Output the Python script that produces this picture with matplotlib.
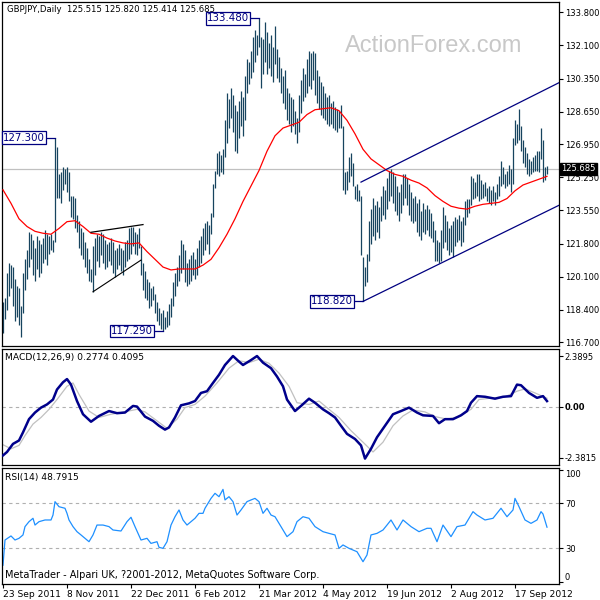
import numpy as np
import matplotlib
matplotlib.use("Agg")
import matplotlib.pyplot as plt
import matplotlib.transforms as mtransforms

# ---------------- data ----------------
highs = [
    118.8, 119.0, 120.3, 120.8, 120.7, 120.6, 120.0, 119.6, 119.5, 118.6,
    120.3, 121.0, 121.5, 122.4, 122.3, 122.0, 121.6, 122.2, 122.0, 121.8,
    122.1, 122.5, 122.3, 122.2, 122.3, 122.0, 127.3, 126.8, 125.4, 125.5,
    125.8, 125.7, 125.8, 125.5, 124.3, 124.3, 124.2, 123.3, 123.0, 122.6,
    122.4, 121.9, 121.6, 121.0, 120.5, 121.7, 122.1, 122.3, 122.2, 122.4,
    122.3, 122.0, 121.8, 121.9, 122.1, 121.9, 121.5, 121.6, 121.8, 121.6,
    121.5, 121.9, 122.0, 122.6, 122.7, 122.7, 122.4, 122.3, 122.6, 121.7,
    120.8, 120.4, 120.0, 119.8, 119.5, 119.6, 119.2, 118.8, 118.5, 118.2,
    118.4, 118.0, 118.3, 118.7, 119.0, 119.8, 120.3, 120.6, 121.2, 122.0,
    121.8, 121.5, 120.8, 121.0, 121.2, 121.4, 121.0, 121.6, 122.0, 122.2,
    122.6, 122.9, 123.0, 122.8, 123.4, 124.9, 125.6, 126.5, 126.6, 126.4,
    126.7, 128.2, 129.6, 129.3, 129.9, 129.5, 129.0, 128.7, 129.2, 129.7,
    129.4, 130.5, 131.4, 131.2, 131.8, 132.5, 132.9, 132.6, 133.48, 132.5,
    132.4, 133.3, 132.8, 132.2, 132.6, 132.0, 133.1, 131.9, 131.5, 130.9,
    130.5, 130.8, 129.9, 129.6, 129.4, 129.3, 128.7, 128.3, 129.5, 130.3,
    130.9, 130.6, 131.4, 131.8, 131.7, 131.8, 131.7, 130.8, 130.5, 130.2,
    130.0, 129.6, 129.4, 129.5, 129.1, 129.2, 128.9, 128.8, 128.7, 129.0,
    127.9, 125.5, 125.6, 126.3, 126.5, 126.0, 124.8, 124.9, 124.6, 124.3,
    121.1, 120.6, 121.3, 123.0, 123.6, 124.2, 123.8, 124.0, 123.7, 124.3,
    124.8, 124.6, 125.2, 125.6, 125.7, 125.5, 125.3, 124.8, 124.5, 124.9,
    125.4, 125.4, 125.2, 124.9, 124.5, 124.2, 124.3, 123.9, 124.1, 123.5,
    123.9, 123.6, 123.8, 123.6, 123.4, 123.0, 122.5, 122.0, 121.9, 122.5,
    123.7, 123.3, 123.0, 122.6, 122.8, 123.0, 123.2, 123.1, 123.3, 123.0,
    123.2, 124.0, 124.1, 124.1, 125.3, 125.2, 125.0, 125.4, 125.4, 125.1,
    124.9, 125.0, 124.7, 124.8, 124.6, 124.8, 124.5, 124.9, 125.3, 126.1,
    125.8, 125.4, 125.6, 125.9, 125.7, 127.3, 128.2, 128.0, 128.8, 127.9,
    127.2, 126.8, 126.5, 126.2, 126.1, 126.3, 126.4, 126.6, 126.6, 127.8,
    127.2, 125.8, 125.82]
lows = [
    117.2, 117.9, 118.4, 119.1, 119.5, 118.6, 117.8, 118.0, 117.6, 117.0,
    118.2, 119.4, 120.0, 120.6, 121.0, 120.2, 119.9, 120.5, 120.1, 120.3,
    120.8, 121.0, 120.7, 121.3, 121.5, 121.4, 121.9, 124.2, 124.2, 123.9,
    124.6, 124.9, 124.5, 124.0, 123.2, 123.1, 122.6, 122.4, 121.6, 121.2,
    121.0, 120.6, 120.3, 119.9, 119.8, 119.3, 120.2, 120.9, 120.6, 121.2,
    120.8, 120.5, 120.6, 120.9, 120.7, 120.3, 120.1, 120.5, 120.7, 120.4,
    120.2, 120.6, 120.9, 121.0, 121.3, 121.7, 121.3, 121.2, 121.6, 120.2,
    119.4, 119.0, 118.9, 118.5, 118.6, 118.9, 118.2, 117.8, 117.6, 117.4,
    117.29, 117.4, 117.5, 117.6, 118.0, 118.6, 119.1, 119.6, 119.9, 120.3,
    120.5, 119.8, 119.6, 119.7, 119.9, 120.2, 120.0, 120.2, 120.6, 120.8,
    121.2, 121.5, 121.8, 121.3, 122.3, 123.2, 124.7, 125.4, 125.3, 125.5,
    125.4, 126.3, 127.0, 127.8, 128.3, 127.6, 126.6, 126.5, 127.3, 127.9,
    127.4, 128.2, 129.6, 130.1, 130.4, 130.7, 131.2, 131.6, 132.0, 129.9,
    130.6, 131.2, 130.6, 130.9, 130.5, 130.2, 131.1, 130.4, 130.2, 129.6,
    129.1, 128.8, 128.2, 128.0, 127.6, 127.9, 127.5, 127.0, 127.6, 128.6,
    129.2, 129.4, 129.6, 130.0, 129.8, 130.3, 129.5, 129.1, 128.8, 128.5,
    128.3, 128.2, 128.0, 127.9, 128.0, 127.8, 127.7, 127.6, 127.8, 127.8,
    124.6, 124.4, 124.6, 125.0, 125.3, 124.8, 124.1, 124.0, 124.0, 121.2,
    118.82, 119.6, 119.8, 120.9, 121.8, 122.2, 122.0, 122.4, 122.1, 123.0,
    123.3, 123.1, 123.6, 124.0, 124.3, 123.9, 123.5, 123.3, 123.0, 123.4,
    123.8, 124.2, 123.8, 123.3, 123.0, 122.9, 123.0, 122.4, 122.2, 122.0,
    122.4, 122.3, 122.5, 122.2, 122.1, 121.9, 120.9, 120.9, 120.8, 120.9,
    121.6, 121.9, 121.5, 121.2, 121.4, 121.1, 121.7, 121.9, 122.0, 121.7,
    121.9, 122.8, 123.2, 123.4, 123.8, 124.1, 124.2, 124.3, 124.0, 124.1,
    124.2, 124.3, 124.0, 123.9, 123.8, 124.0, 123.8, 124.1, 124.3, 124.8,
    124.9, 124.7, 124.8, 124.9, 124.5, 124.9, 126.9, 127.0, 127.2, 126.6,
    126.0, 125.8, 125.4, 125.3, 125.4, 125.5, 125.6, 125.6, 125.5, 126.2,
    125.0, 125.1, 125.414]
last_ohlc = [125.515, 125.820, 125.414, 125.685]

# moving average (red), read every 4 bars
ma_vals = [124.6, 123.9, 123.1, 122.7, 122.45, 122.35, 122.3, 122.6, 122.95, 123.0,
           122.7, 122.35, 122.3, 122.1, 121.95, 121.85, 121.8, 121.85, 121.4, 121.0,
           120.6, 120.45, 120.5, 120.5, 120.5, 120.7, 121.0, 121.6, 122.3, 123.1,
           124.0, 124.8, 125.6, 126.6, 127.4, 127.8, 127.95, 128.1, 128.5, 128.75,
           128.8, 128.85, 128.7, 128.2, 127.5, 126.7, 126.2, 125.9, 125.6, 125.4,
           125.3, 125.1, 124.95, 124.7, 124.3, 124.0, 123.75, 123.65, 123.6, 123.75,
           123.85, 123.9, 123.95, 124.15, 124.55, 124.85, 125.0, 125.15, 125.3]

# price labels (bar index, price)
label_bars = [26, 128, 80, 180]
label_prices = [127.300, 133.480, 117.290, 118.820]

# trend lines (bar index, price)
chan_low_x, chan_low_y = [180, 278], [118.82, 123.8]
chan_up_x, chan_up_y = [179, 278], [125.0, 130.15]
tri_up_x, tri_up_y = [44, 70], [122.4, 122.8]
tri_lo_x, tri_lo_y = [45, 69], [119.32, 120.96]

# MACD(12,26,9)
macd_idx = [0, 2, 5, 8, 10, 13, 16, 19, 22, 25, 27, 30, 32, 34, 37, 40, 44, 48, 53, 57,
            61, 65, 67, 71, 75, 78, 81, 83, 86, 89, 93, 96, 99, 102, 105, 108, 111, 115, 118, 120,
            124, 127, 130, 134, 137, 140, 142, 146, 149, 153, 156, 160, 163, 166, 169, 172, 176, 179, 181, 184,
            187, 191, 195, 199, 203, 207, 210, 215, 218, 221, 225, 229, 232, 234, 237, 241, 246, 250, 254, 257,
            259, 263, 267, 270, 272]
macd_main = [-2.27, -2.11, -1.73, -1.57, -1.19, -0.57, -0.26, -0.03, 0.12, 0.35, 0.82, 1.16, 1.31, 1.05, 0.28, -0.34, -0.69, -0.42, -0.19, -0.29,
             -0.26, 0.05, 0.02, -0.45, -0.65, -0.88, -1.06, -0.96, -0.49, 0.08, 0.17, 0.28, 0.66, 0.74, 1.13, 1.51, 1.97, 2.39, 2.13, 1.97,
             2.2, 2.39, 2.08, 1.82, 1.43, 0.97, 0.35, -0.19, 0.05, 0.39, 0.2, -0.11, -0.29, -0.49, -0.88, -1.26, -1.5, -1.8, -2.42, -1.96,
             -1.42, -0.88, -0.34, -0.19, -0.03, -0.26, -0.39, -0.42, -0.76, -0.57, -0.57, -0.39, -0.19, 0.2, 0.51, 0.48, 0.39, 0.48, 0.51, 1.05,
             1.02, 0.66, 0.43, 0.51, 0.2774]
sig_idx = [0, 4, 8, 11, 15, 19, 23, 27, 32, 35, 38, 43, 48, 54, 59, 67, 71, 77, 82, 87,
           91, 96, 101, 107, 113, 118, 123, 128, 133, 138, 143, 147, 153, 158, 163, 168, 174, 180, 185, 190,
           195, 200, 205, 211, 216, 222, 228, 234, 238, 245, 251, 257, 261, 266, 272]
macd_signal = [-1.77, -1.96, -1.8, -1.34, -0.8, -0.49, -0.11, 0.35, 0.97, 1.13, 0.59, -0.19, -0.49, -0.34, -0.26, -0.11, -0.23, -0.65, -1.0, -0.57,
               -0.03, 0.12, 0.51, 1.13, 1.82, 2.17, 2.08, 2.24, 2.05, 1.59, 0.97, 0.2, 0.12, 0.28, -0.11, -0.49, -1.11, -1.65, -2.11, -1.65,
               -0.88, -0.42, -0.14, -0.23, -0.45, -0.57, -0.45, -0.11, 0.35, 0.43, 0.48, 0.74, 0.85, 0.66, 0.4095]

# RSI(14)
rsi_idx = [0, 1, 3, 4, 6, 8, 10, 11, 13, 15, 16, 18, 21, 24, 25, 26, 28, 31, 32, 33,
           35, 37, 39, 41, 43, 45, 47, 50, 53, 55, 59, 62, 64, 66, 69, 72, 74, 77, 78, 80,
           82, 84, 86, 88, 90, 92, 94, 96, 98, 100, 101, 104, 106, 108, 110, 111, 113, 115, 117, 119,
           122, 124, 126, 128, 130, 132, 134, 136, 139, 142, 145, 147, 150, 153, 156, 160, 163, 166, 168, 170,
           173, 177, 180, 182, 184, 187, 190, 192, 194, 197, 200, 204, 208, 212, 214, 217, 220, 224, 227, 231,
           235, 237, 241, 245, 249, 252, 255, 256, 258, 261, 264, 267, 269, 270, 272]
rsi_vals = [15.0, 37.4, 39.8, 41.0, 37.4, 38.9, 41.9, 49.3, 53.7, 56.7, 50.7, 53.7, 55.2, 55.2, 59.6, 71.5, 67.0, 65.6, 61.1, 55.2,
            49.3, 44.8, 41.9, 38.9, 35.9, 41.9, 50.7, 50.7, 49.3, 46.3, 45.4, 53.7, 57.6, 49.3, 37.4, 38.9, 34.4, 35.9, 30.9, 30.0,
            35.9, 50.7, 58.1, 64.1, 55.2, 50.7, 53.7, 56.7, 61.1, 61.1, 65.6, 74.4, 78.9, 75.9, 82.4, 73.0, 75.9, 71.5, 59.6, 64.1,
            71.5, 73.0, 74.4, 71.5, 61.1, 65.6, 59.6, 58.1, 49.3, 40.4, 44.8, 53.7, 58.1, 56.7, 49.3, 44.8, 43.3, 41.9, 30.0, 33.0,
            30.0, 27.0, 18.1, 24.1, 41.9, 43.3, 46.3, 50.7, 55.2, 46.3, 55.2, 49.3, 44.8, 47.8, 47.8, 35.9, 50.7, 40.4, 49.3, 50.7,
            62.6, 59.6, 55.2, 56.7, 65.6, 58.1, 64.1, 74.4, 67.0, 55.2, 52.2, 55.2, 62.6, 60.5, 48.7915]

date_labels = ["23 Sep 2011", "8 Nov 2011", "22 Dec 2011", "6 Feb 2012", "21 Mar 2012",
               "4 May 2012", "19 Jun 2012", "2 Aug 2012", "17 Sep 2012"]
date_bars = [0, 32, 64, 96, 128, 160, 192, 224, 256]

price_ticks = [116.700, 118.400, 120.100, 121.800, 123.550, 125.250, 126.950, 128.650, 130.350, 132.100, 133.800]

# ---------------- figure ----------------
W = H = 600
fig = plt.figure(figsize=(6, 6), dpi=100)
fig.patch.set_facecolor("white")
FS = 6.6
YFS = 6.0
NAVY = "#000080"


def rect(x0, y0, x1, y1):
    return [x0 / W, 1 - y1 / H, (x1 - x0) / W, (y1 - y0) / H]


ax = fig.add_axes(rect(2, 2, 559, 346))
ax_m = fig.add_axes(rect(2, 349, 559, 465))
ax_r = fig.add_axes(rect(2, 468, 559, 584))

XL = (-0.5, 278)
for a in (ax, ax_m, ax_r):
    a.set_xlim(*XL)
    a.set_facecolor("white")
    for s in a.spines.values():
        s.set_color("black")
        s.set_linewidth(0.9)
    a.yaxis.tick_right()
    a.tick_params(axis="y", direction="out", length=3, width=0.8, pad=1.2,
                  labelsize=YFS, colors="black")
    a.tick_params(axis="x", bottom=False, labelbottom=False)

# ---- main price panel ----
idx = np.arange(len(highs))
ax.set_ylim(116.51, 134.33)
ax.axhline(last_ohlc[3], color="#c0c0c0", lw=0.9, zorder=0)
ax.vlines(idx, lows, highs, color="#17445f", lw=0.9, zorder=2)
ma_idx = np.arange(0, len(highs), 4)
ax.plot(ma_idx, ma_vals, color="red", lw=0.9, zorder=3)
ax.plot(chan_low_x, chan_low_y, color=NAVY, lw=0.9, zorder=3)
ax.plot(chan_up_x, chan_up_y, color=NAVY, lw=0.9, zorder=3)
ax.plot(tri_up_x, tri_up_y, color="black", lw=0.9, zorder=3)
ax.plot(tri_lo_x, tri_lo_y, color="black", lw=0.8, zorder=3)

for b, p in zip(label_bars, label_prices):
    ax.plot([b - 5, b], [p, p], color=NAVY, lw=0.9, zorder=4)
    ax.text(b - 5, p, f"{p:.3f}", ha="right", va="center", color=NAVY, fontsize=7.4,
            zorder=5, bbox=dict(boxstyle="square,pad=0.12", fc="white", ec=NAVY, lw=0.9))

ax.set_yticks(price_ticks)
ax.set_yticklabels([f"{v:.3f}" for v in price_ticks])

ax.text(0.009, 0.977, "GBPJPY,Daily  " + " ".join(f"{v:.3f}" for v in last_ohlc),
        transform=ax.transAxes, ha="left", va="center", fontsize=6.1, color="black")
fig.text(434 / W, 1 - 46 / H, "ActionForex.com", ha="center", va="center",
         fontsize=17, family="Liberation Sans", color="#c8c8c8", zorder=0)

blend = mtransforms.blended_transform_factory(ax.transAxes, ax.transData)
ax.text(1.004, last_ohlc[3], f"{last_ohlc[3]:.3f}", transform=blend, ha="left", va="center",
        fontsize=YFS, color="white", clip_on=False, zorder=6,
        bbox=dict(boxstyle="square,pad=0.15", fc="black", ec="black"))

# ---- MACD panel ----
ax_m.set_ylim(-2.72, 2.72)
ax_m.axhline(0, color="#b0b0b0", lw=0.8, ls=(0, (3, 3)), zorder=1)
ax_m.plot(sig_idx, macd_signal, color="#c0c0c0", lw=0.9, zorder=2)
ax_m.plot(macd_idx, macd_main, color="#00008b", lw=1.8, zorder=3)
ax_m.set_yticks([2.3895, 0.0, -2.3815])
ax_m.set_yticklabels(["2.3895", "0.00", "-2.3815"])
ax_m.get_yticklabels()[1].set_fontweight("bold")
ax_m.text(0.0054, 0.93, f"MACD(12,26,9) {macd_main[-1]:.4f} {macd_signal[-1]:.4f}",
          transform=ax_m.transAxes, ha="left", va="center", fontsize=FS)

# ---- RSI panel ----
ax_r.set_ylim(-1.7, 101.4)
for lv in (70, 30):
    ax_r.axhline(lv, color="#b0b0b0", lw=0.8, ls=(0, (3, 3)), zorder=1)
ax_r.plot(rsi_idx, rsi_vals, color="#1e90ff", lw=0.9, zorder=2)
ax_r.set_yticks([100, 70, 30, 0])
ax_r.set_yticklabels(["100", "70", "30", "0"])
tl = ax_r.get_yticklabels()
tl[0].set_va("top")
tl[3].set_va("bottom")
ax_r.text(0.0054, 0.922, f"RSI(14) {rsi_vals[-1]:.4f}", transform=ax_r.transAxes,
          ha="left", va="center", fontsize=FS)
ax_r.text(0.0054, 0.078, "MetaTrader - Alpari UK, ?2001-2012, MetaQuotes Software Corp.",
          transform=ax_r.transAxes, ha="left", va="center", fontsize=7.0)

ax_r.set_xticks(date_bars)
ax_r.set_xticklabels(date_labels)
ax_r.tick_params(axis="x", bottom=True, labelbottom=True, direction="out", length=3,
                 width=0.8, pad=1.5, labelsize=FS)
for t in ax_r.get_xticklabels():
    t.set_ha("left")

fig.savefig("out.png", dpi=100, facecolor="white")
